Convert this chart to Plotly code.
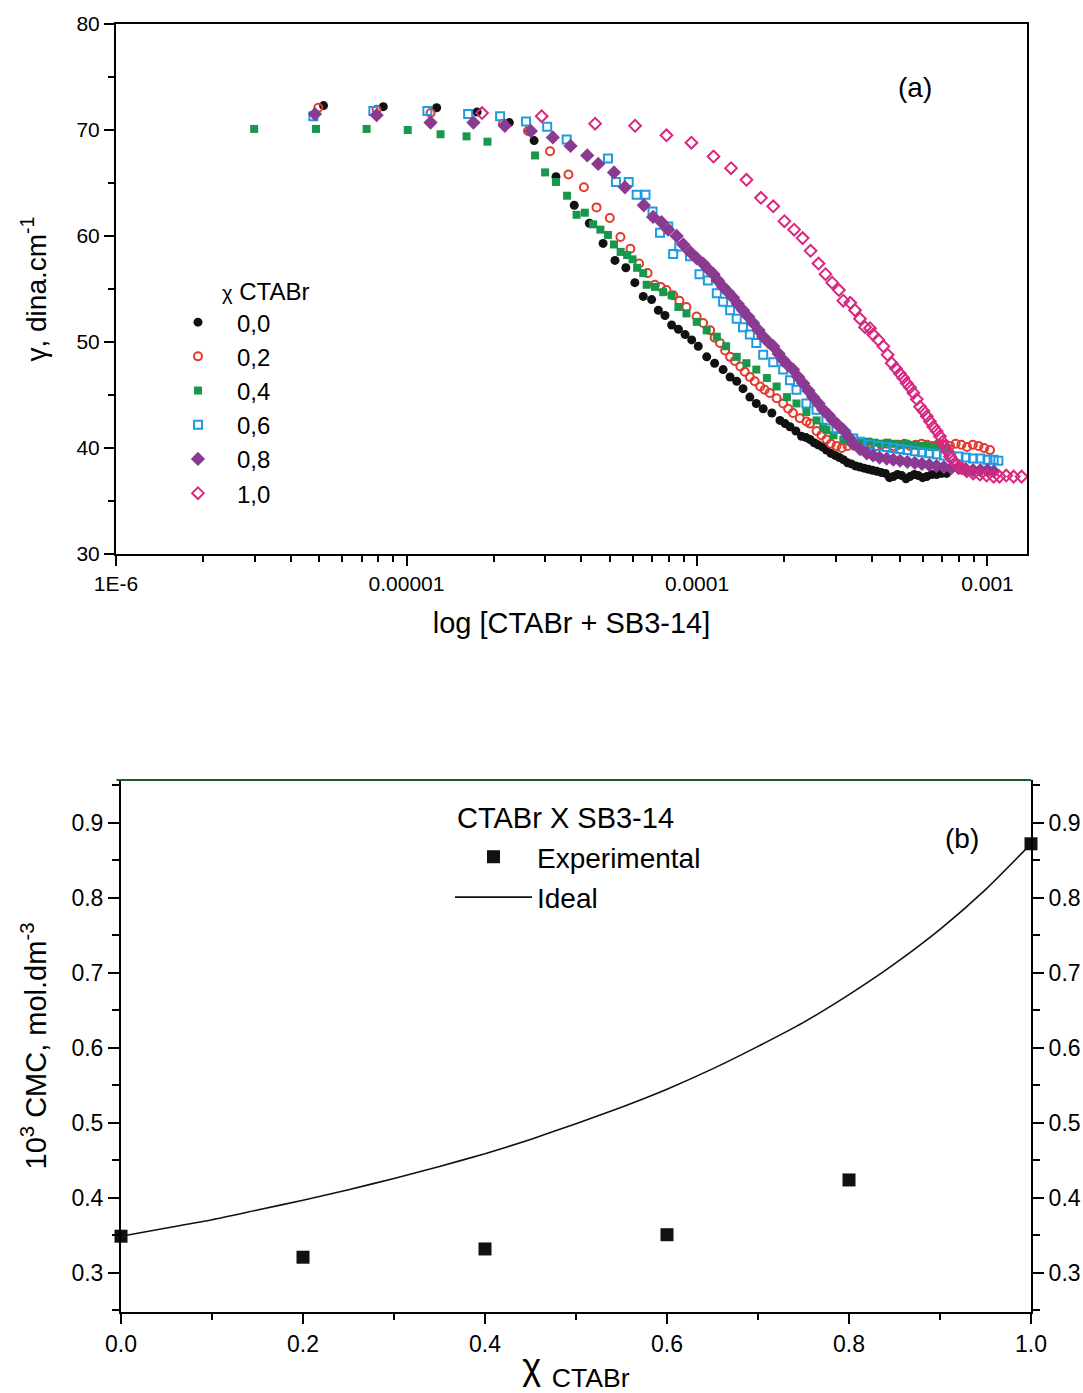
import plotly.graph_objects as go

FONT = "Liberation Sans, Arial, sans-serif"

# ---------------- (a) surface tension vs concentration ----------------
series_names = ["0,0", "0,2", "0,4", "0,6", "0,8", "1,0"]

x00 = [5.18e-6, 8.32e-6, 1.27e-5, 1.75e-5, 2.26e-5, 2.75e-5, 3.27e-5, 3.78e-5, 4.26e-5, 4.75e-5,
       5.22e-5, 5.69e-5, 6.11e-5, 6.53e-5, 6.98e-5, 7.36e-5, 7.76e-5, 8.18e-5, 8.63e-5, 9.10e-5,
       9.59e-5, 1.01e-4, 1.08e-4, 1.15e-4, 1.23e-4, 1.30e-4, 1.37e-4, 1.44e-4, 1.52e-4, 1.60e-4,
       1.69e-4, 1.81e-4, 1.93e-4, 2.01e-4, 2.09e-4, 2.19e-4, 2.29e-4, 2.37e-4, 2.45e-4, 2.53e-4,
       2.61e-4, 2.70e-4, 2.79e-4, 2.89e-4, 2.99e-4, 3.09e-4, 3.19e-4, 3.30e-4, 3.40e-4, 3.52e-4,
       3.64e-4, 3.76e-4, 3.89e-4, 4.02e-4, 4.16e-4, 4.30e-4, 4.45e-4, 4.60e-4, 4.74e-4, 4.90e-4,
       5.07e-4, 5.24e-4, 5.41e-4, 5.60e-4, 5.78e-4, 5.98e-4, 6.18e-4, 6.43e-4, 6.68e-4, 6.95e-4,
       7.23e-4]
y00 = [72.3, 72.2, 72.1, 71.7, 70.7, 69.0, 65.6, 62.9, 61.2, 59.3,
       57.7, 57.0, 55.6, 54.3, 54.0, 53.0, 52.5, 51.6, 51.2, 50.7,
       50.2, 49.6, 48.6, 48.0, 47.4, 46.7, 46.3, 45.6, 44.8, 44.2,
       43.7, 43.3, 42.6, 42.3, 42.0, 41.6, 41.1, 41.0, 40.8, 40.5,
       40.3, 40.1, 39.8, 39.5, 39.3, 39.1, 38.9, 38.6, 38.5, 38.3,
       38.2, 38.1, 38.0, 37.9, 37.8, 37.7, 37.6, 37.2, 37.3, 37.5,
       37.4, 37.1, 37.3, 37.5, 37.4, 37.2, 37.3, 37.5, 37.5, 37.6,
       37.6]

x02 = [4.97e-6, 7.89e-6, 1.21e-5, 2.15e-5, 2.62e-5, 3.12e-5, 3.61e-5, 4.08e-5, 4.51e-5, 5.01e-5,
       5.45e-5, 5.90e-5, 6.32e-5, 6.76e-5, 7.16e-5, 7.50e-5, 7.85e-5, 8.28e-5, 8.70e-5, 9.20e-5,
       9.97e-5, 1.05e-4, 1.11e-4, 1.15e-4, 1.20e-4, 1.25e-4, 1.30e-4, 1.35e-4, 1.41e-4, 1.46e-4,
       1.52e-4, 1.58e-4, 1.65e-4, 1.71e-4, 1.78e-4, 1.88e-4, 1.98e-4, 2.06e-4, 2.14e-4, 2.26e-4,
       2.38e-4, 2.45e-4, 2.58e-4, 2.68e-4, 2.79e-4, 2.89e-4, 3.02e-4, 3.15e-4, 3.30e-4, 3.45e-4,
       3.60e-4, 3.78e-4, 3.95e-4, 4.13e-4, 4.32e-4, 4.52e-4, 4.73e-4, 4.95e-4, 5.18e-4, 5.42e-4,
       5.67e-4, 5.93e-4, 6.20e-4, 6.49e-4, 6.79e-4, 7.10e-4, 7.43e-4, 7.77e-4, 8.13e-4, 8.50e-4,
       8.90e-4, 9.31e-4, 9.74e-4, 1.02e-3]
y02 = [72.1, 71.9, 71.6, 70.6, 69.9, 68.0, 65.8, 64.6, 62.7, 61.7,
       59.9, 58.8, 57.4, 56.5, 55.4, 55.2, 54.9, 54.4, 53.9, 53.3,
       52.4, 51.8, 51.1, 50.4, 49.9, 49.2, 48.6, 48.2, 47.7, 47.2,
       46.7, 46.3, 45.8, 45.5, 45.2, 44.7, 44.2, 43.7, 43.3, 42.8,
       42.5, 42.3, 41.6, 41.2, 40.8, 40.4, 40.2, 40.0, 40.2, 40.3,
       40.4, 40.3, 40.4, 40.2, 40.3, 40.4, 40.2, 40.3, 40.4, 40.2,
       40.3, 40.4, 40.3, 40.2, 40.4, 40.3, 40.2, 40.4, 40.3, 40.1,
       40.3, 40.2, 40.0, 39.8]

x04 = [2.99e-6, 4.88e-6, 7.29e-6, 1.01e-5, 1.31e-5, 1.61e-5, 1.90e-5, 2.77e-5, 3.00e-5, 3.27e-5,
       3.57e-5, 3.85e-5, 4.11e-5, 4.39e-5, 4.65e-5, 4.94e-5, 5.18e-5, 5.46e-5, 5.75e-5, 6.00e-5,
       6.22e-5, 6.53e-5, 6.71e-5, 7.17e-5, 7.65e-5, 8.18e-5, 8.63e-5, 9.20e-5, 9.98e-5, 1.08e-4,
       1.17e-4, 1.26e-4, 1.37e-4, 1.48e-4, 1.60e-4, 1.74e-4, 1.88e-4, 2.04e-4, 2.20e-4, 2.38e-4,
       2.58e-4, 2.72e-4, 2.79e-4, 2.95e-4, 3.19e-4, 3.35e-4, 3.52e-4, 3.70e-4, 3.89e-4, 4.09e-4,
       4.30e-4, 4.52e-4, 4.75e-4, 5.00e-4, 5.25e-4, 5.52e-4, 5.80e-4, 6.10e-4, 6.41e-4, 6.74e-4,
       7.08e-4, 7.23e-4]
y04 = [70.1, 70.1, 70.1, 70.0, 69.6, 69.4, 68.9, 67.6, 66.0, 65.1,
       63.8, 62.0, 62.2, 61.1, 60.6, 60.1, 59.2, 58.5, 58.2, 57.8,
       57.0, 56.5, 55.4, 55.2, 54.7, 54.4, 53.3, 52.7, 51.9, 51.1,
       50.5, 49.6, 48.6, 48.0, 47.4, 46.6, 45.8, 44.8, 44.2, 43.4,
       42.6, 42.0, 41.7, 41.2, 40.8, 40.6, 40.5, 40.5, 40.6, 40.5,
       40.4, 40.5, 40.4, 40.3, 40.4, 40.3, 40.2, 40.2, 40.1, 40.1,
       40.0, 40.0]

x06 = [4.78e-6, 7.69e-6, 1.18e-5, 1.63e-5, 2.10e-5, 2.58e-5, 3.05e-5, 3.56e-5, 4.94e-5, 5.26e-5,
       5.82e-5, 6.20e-5, 6.65e-5, 7.03e-5, 7.46e-5, 7.96e-5, 8.28e-5, 8.69e-5, 9.46e-5, 1.02e-4,
       1.09e-4, 1.17e-4, 1.23e-4, 1.30e-4, 1.37e-4, 1.44e-4, 1.52e-4, 1.60e-4, 1.69e-4, 1.83e-4,
       1.98e-4, 2.09e-4, 2.20e-4, 2.38e-4, 2.58e-4, 2.79e-4, 3.02e-4, 3.27e-4, 3.45e-4, 3.64e-4,
       3.94e-4, 4.20e-4, 4.50e-4, 4.74e-4, 5.00e-4, 5.30e-4, 5.62e-4, 5.95e-4, 6.30e-4, 6.68e-4,
       7.08e-4, 7.50e-4, 7.95e-4, 8.42e-4, 8.92e-4, 9.45e-4, 1.00e-3, 1.05e-3, 1.09e-3]
y06 = [71.3, 71.8, 71.8, 71.5, 71.3, 70.8, 70.3, 69.1, 67.3, 65.1,
       65.1, 63.9, 63.9, 62.3, 60.3, 60.9, 58.3, 59.0, 58.1, 56.4,
       55.8, 54.6, 53.8, 53.0, 52.2, 51.4, 50.7, 49.9, 48.8, 48.1,
       47.4, 46.4, 45.5, 44.2, 43.6, 42.6, 41.8, 41.2, 40.9, 40.6,
       40.3, 40.2, 40.1, 40.0, 39.9, 39.8, 39.7, 39.6, 39.5, 39.4,
       39.3, 39.2, 39.2, 39.1, 39.0, 39.0, 38.9, 38.9, 38.8]

x08 = [4.84e-6, 7.89e-6, 1.21e-5, 1.70e-5, 2.18e-5, 2.68e-5, 3.19e-5, 3.67e-5, 4.19e-5, 4.57e-5,
       5.18e-5, 5.65e-5, 6.56e-5, 7.06e-5, 7.55e-5, 7.96e-5, 8.51e-5, 8.97e-5, 9.46e-5, 9.98e-5,
       1.05e-4, 1.09e-4, 1.14e-4, 1.18e-4, 1.23e-4, 1.28e-4, 1.33e-4, 1.38e-4, 1.44e-4, 1.50e-4,
       1.56e-4, 1.63e-4, 1.69e-4, 1.76e-4, 1.83e-4, 1.91e-4, 1.98e-4, 2.06e-4, 2.14e-4, 2.23e-4,
       2.32e-4, 2.42e-4, 2.51e-4, 2.62e-4, 2.72e-4, 2.84e-4, 2.94e-4, 3.05e-4, 3.19e-4, 3.33e-4,
       3.45e-4, 3.64e-4, 3.84e-4, 4.04e-4, 4.25e-4, 4.50e-4, 4.74e-4, 5.00e-4, 5.30e-4, 5.62e-4,
       5.95e-4, 6.30e-4, 6.68e-4, 7.08e-4, 7.50e-4, 7.95e-4, 8.42e-4, 8.92e-4, 9.45e-4, 1.00e-3,
       1.05e-3]
y08 = [71.5, 71.4, 70.7, 70.7, 70.4, 69.9, 69.3, 68.5, 67.6, 66.8,
       66.0, 64.6, 62.9, 61.8, 61.3, 60.6, 60.0, 59.2, 58.5, 57.9,
       57.4, 56.9, 56.4, 55.8, 55.2, 54.7, 54.2, 53.6, 53.0, 52.4,
       51.8, 51.1, 50.5, 50.0, 49.6, 48.9, 48.3, 47.8, 47.4, 46.7,
       46.1, 45.4, 44.8, 44.2, 43.6, 43.1, 42.6, 42.2, 41.7, 41.0,
       40.4, 39.9, 39.5, 39.3, 39.1, 39.0, 38.9, 38.8, 38.7, 38.6,
       38.5, 38.4, 38.3, 38.2, 38.1, 38.1, 38.0, 37.9, 37.9, 37.9,
       37.8]

x10 = [1.82e-5, 2.92e-5, 4.46e-5, 6.12e-5, 7.85e-5, 9.57e-5, 1.14e-4, 1.31e-4, 1.48e-4, 1.66e-4,
       1.83e-4, 2.00e-4, 2.16e-4, 2.31e-4, 2.46e-4, 2.62e-4, 2.77e-4, 2.92e-4, 3.08e-4, 3.19e-4,
       3.37e-4, 3.50e-4, 3.64e-4, 3.79e-4, 3.94e-4, 4.04e-4, 4.21e-4, 4.38e-4, 4.53e-4, 4.68e-4,
       4.84e-4, 5.00e-4, 5.13e-4, 5.27e-4, 5.41e-4, 5.56e-4, 5.71e-4, 5.86e-4, 6.02e-4, 6.18e-4,
       6.34e-4, 6.51e-4, 6.68e-4, 6.86e-4, 7.00e-4, 7.14e-4, 7.28e-4, 7.43e-4, 7.63e-4, 7.83e-4,
       8.15e-4, 8.48e-4, 8.93e-4, 9.42e-4, 9.93e-4, 1.05e-3, 1.10e-3, 1.16e-3, 1.23e-3, 1.31e-3]
y10 = [71.6, 71.3, 70.6, 70.4, 69.5, 68.8, 67.5, 66.4, 65.3, 63.6,
       62.8, 61.4, 60.6, 59.8, 58.6, 57.4, 56.4, 55.6, 54.9, 53.9,
       53.7, 53.0, 52.2, 51.4, 51.3, 50.7, 50.2, 49.6, 48.8, 48.0,
       47.5, 47.0, 46.6, 46.1, 45.7, 45.2, 44.6, 43.9, 43.5, 43.0,
       42.5, 42.0, 41.6, 41.1, 40.6, 40.1, 39.7, 39.2, 38.8, 38.4,
       38.1, 37.8, 37.6, 37.5, 37.4, 37.3, 37.3, 37.4, 37.3, 37.3]

xa_tickvals = [1e-6, 1e-5, 1e-4, 1e-3]
xa_ticktext = ["1E-6", "0.00001", "0.0001", "0.001"]

# ---------------- (b) CMC vs mole fraction ----------------
legend_title_b = "CTABr X SB3-14"
x_exp = [0.0, 0.2, 0.4, 0.6, 0.8, 1.0]
y_exp = [0.349, 0.321, 0.332, 0.351, 0.424, 0.872]
x_ideal = [0.0, 0.05, 0.1, 0.15, 0.2, 0.25, 0.3, 0.35, 0.4, 0.45, 0.5,
           0.55, 0.6, 0.65, 0.7, 0.75, 0.8, 0.85, 0.9, 0.95, 1.0]
y_ideal = [0.349, 0.360, 0.371, 0.384, 0.397, 0.411, 0.426, 0.442, 0.459, 0.478, 0.499,
           0.521, 0.545, 0.572, 0.602, 0.634, 0.671, 0.712, 0.758, 0.811, 0.872]

# ---------------- figure ----------------
styles = [
    dict(symbol="circle", size=9, color="#111111", line=dict(width=0)),
    dict(symbol="circle-open", size=8, color="#e5392e", line=dict(width=2)),
    dict(symbol="square", size=8, color="#17984a", line=dict(width=0)),
    dict(symbol="square-open", size=8, color="#1e9be3", line=dict(width=2)),
    dict(symbol="diamond", size=11, color="#8b3a92", line=dict(width=0)),
    dict(symbol="diamond-open", size=9, color="#d6287f", line=dict(width=2)),
]
xs = [x00, x02, x04, x06, x08, x10]
ys = [y00, y02, y04, y06, y08, y10]

fig = go.Figure()
for name, xv, yv, st in zip(series_names, xs, ys, styles):
    fig.add_trace(go.Scatter(x=xv, y=yv, mode="markers", name=name, marker=st,
                             xaxis="x", yaxis="y", legend="legend", legendgroup=name))

fig.add_trace(go.Scatter(x=x_exp, y=y_exp, mode="markers", name="Experimental",
                         marker=dict(symbol="square", size=13, color="#111111"),
                         xaxis="x2", yaxis="y2", legend="legend2", legendgroup="exp",
                         cliponaxis=False))
fig.add_trace(go.Scatter(x=x_ideal, y=y_ideal, mode="lines", name="Ideal",
                         line=dict(color="#111111", width=1.6, shape="spline", smoothing=0.6),
                         xaxis="x2", yaxis="y3", legend="legend2", legendgroup="ideal",
                         cliponaxis=False))

minor_log = [m * 10.0 ** e for e in range(-6, -2) for m in range(2, 10)]

axis_common = dict(showline=True, linecolor="black", linewidth=2, showgrid=False,
                   zeroline=False, ticks="outside", tickcolor="black", tickwidth=2,
                   automargin=False)

fig.update_layout(
    width=1083, height=1393,
    margin=dict(l=0, r=0, t=0, b=0, autoexpand=False),
    paper_bgcolor="white", plot_bgcolor="white",
    font=dict(family=FONT, color="black"),
    xaxis=dict(axis_common, type="log", domain=[0.10711, 0.94829], anchor="y",
               range=[-6, -2.864], tickvals=xa_tickvals, ticktext=xa_ticktext,
               tickfont=dict(size=21), mirror=True, ticklen=10,
               minor=dict(tickvals=minor_log, ticks="outside", ticklen=6, tickwidth=1.5,
                          tickcolor="black", showgrid=False),
               title=dict(text="log [CTABr + SB3-14]", font=dict(size=29), standoff=19)),
    yaxis=dict(axis_common, domain=[0.60230, 0.98277], anchor="x", range=[30, 80],
               dtick=10, tickfont=dict(size=21), mirror=True, ticklen=10,
               minor=dict(dtick=5, ticks="outside", ticklen=6, tickwidth=1.5,
                          tickcolor="black", showgrid=False),
               title=dict(text="γ, dina.cm<sup>-1</sup>", font=dict(size=28), standoff=22)),
    xaxis2=dict(axis_common, domain=[0.11173, 0.95199], anchor="y2", range=[0, 1],
                dtick=0.2, tickformat=".1f", tickfont=dict(size=23), ticklen=10,
                minor=dict(dtick=0.1, ticks="outside", ticklen=6, tickwidth=1.5,
                           tickcolor="black", showgrid=False),
                title=dict(text="<span style='font-size:36px'>χ</span> <sub>CTABr</sub>",
                           font=dict(size=38), standoff=0)),
    yaxis2=dict(axis_common, domain=[0.05815, 0.44006], anchor="x2", range=[0.248, 0.957],
                dtick=0.1, tickformat=".1f", tickfont=dict(size=23), ticklen=11,
                minor=dict(dtick=0.05, tick0=0.25, ticks="outside", ticklen=7, tickwidth=1.5,
                           tickcolor="black", showgrid=False),
                title=dict(text="10<sup>3</sup> CMC, mol.dm<sup>-3</sup>", font=dict(size=29),
                           standoff=16)),
    yaxis3=dict(axis_common, overlaying="y2", side="right", anchor="x2", range=[0.248, 0.957],
                dtick=0.1, tickformat=".1f", tickfont=dict(size=23), ticklen=11,
                minor=dict(dtick=0.05, tick0=0.25, ticks="outside", ticklen=7, tickwidth=1.5,
                           tickcolor="black", showgrid=False)),
    legend=dict(x=0.1468, xanchor="left", y=0.7846, yanchor="top",
                bgcolor="rgba(0,0,0,0)", font=dict(size=24, family=FONT),
                tracegroupgap=0, itemwidth=68, itemclick=False),
    legend2=dict(x=0.4155, xanchor="left", y=0.4027, yanchor="top",
                 bgcolor="rgba(0,0,0,0)", font=dict(size=28, family=FONT),
                 tracegroupgap=1, itemwidth=77, itemclick=False),
    showlegend=True,
)

fig.add_shape(type="line", xref="x2 domain", yref="y2 domain", x0=-0.005, x1=1.0, y0=1, y1=1,
              line=dict(color="#1d5a2c", width=2))

fig.add_annotation(text="<span style='font-size:20px'>χ</span> CTABr", xref="paper", yref="paper",
                   x=0.2031, y=0.7904, xanchor="left", yanchor="middle", showarrow=False,
                   font=dict(size=24))
fig.add_annotation(text=legend_title_b, xref="paper", yref="paper",
                   x=0.4201, y=0.4128, xanchor="left", yanchor="middle", showarrow=False,
                   font=dict(size=29))
fig.add_annotation(text="(a)", xref="paper", yref="paper", x=0.8449, y=0.9375,
                   xanchor="center", yanchor="middle", showarrow=False, font=dict(size=28))
fig.add_annotation(text="(b)", xref="paper", yref="paper", x=0.8883, y=0.3984,
                   xanchor="center", yanchor="middle", showarrow=False, font=dict(size=28))

fig.write_html("out.html")
